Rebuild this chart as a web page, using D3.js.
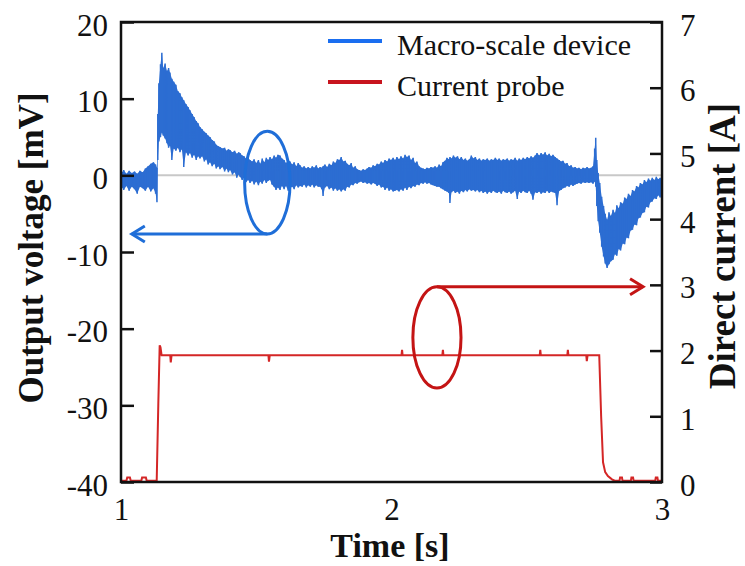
<!DOCTYPE html>
<html lang="en">
<head>
    <meta charset="UTF-8">
    <script src="https://d3js.org/d3.v7.min.js"></script>
    <title>Output voltage and direct current</title>
    <style>
        body { margin: 0; background: #fff; }
        svg text { font-family: "Liberation Serif", "Times New Roman", serif; fill: #111; }
    </style>
</head>
<body>
<script>
    // tick labels
    const timeTicks = [1, 2, 3];
    const voltTicks = [-40, -30, -20, -10, 0, 10, 20];
    const currentTicks = [0, 1, 2, 3, 4, 5, 6, 7];

    const seriesNames = ["Macro-scale device", "Current probe"];

    const voltageBand = [
        [1.000, 1.3, -2.4], [1.005, 0.4, -1.6], [1.010, 0.7, -1.9], [1.020, 0.2, -1.4],
        [1.030, 0.6, -2.0], [1.040, 0.3, -1.5], [1.050, 0.5, -1.8], [1.060, 0.2, -2.4],
        [1.070, 0.6, -1.5], [1.080, 0.4, -1.7], [1.090, 0.9, -2.0], [1.100, 1.2, -1.5],
        [1.110, 1.5, -2.1], [1.120, 1.7, -1.7], [1.128, 1.4, -2.4], [1.133, 1.0, -3.5],
        [1.136, 8.0, 2.0], [1.140, 12.0, 4.4], [1.146, 14.5, 5.0], [1.151, 16.0, 5.6],
        [1.156, 14.0, 5.2], [1.163, 14.6, 4.8], [1.170, 13.6, 4.2], [1.176, 14.0, 3.6],
        [1.181, 13.4, 3.9], [1.188, 12.6, 2.0], [1.195, 12.2, 3.5], [1.203, 11.8, 3.2],
        [1.210, 11.0, 3.6], [1.218, 10.7, 3.0], [1.225, 10.2, 3.4], [1.232, 9.8, 1.1],
        [1.240, 9.3, 3.0], [1.248, 8.9, 2.6], [1.255, 8.5, 2.9], [1.263, 8.0, 2.3],
        [1.270, 7.6, 2.7], [1.278, 7.1, 2.0], [1.285, 6.8, 2.5], [1.292, 6.3, 2.2],
        [1.300, 6.0, 2.5], [1.308, 5.7, 1.8], [1.315, 5.5, 2.1], [1.322, 5.2, 1.4],
        [1.329, 5.0, 1.7], [1.337, 4.6, 1.2], [1.345, 4.4, 1.5], [1.352, 4.0, 0.9],
        [1.360, 3.8, 1.2], [1.366, 3.7, 0.8], [1.375, 3.5, 1.1], [1.383, 3.6, 0.5],
        [1.390, 3.2, 0.9], [1.397, 3.4, 0.4], [1.403, 3.3, 0.7], [1.412, 3.0, 0.1],
        [1.420, 3.2, 0.4], [1.428, 2.8, -0.3], [1.435, 3.0, 0.1], [1.440, 2.9, -0.2],
        [1.448, 2.6, -0.6], [1.455, 2.5, -0.3], [1.462, 2.2, -0.9], [1.470, 2.3, -0.6],
        [1.477, 2.0, -1.0], [1.485, 1.8, -0.7], [1.492, 2.1, -1.2], [1.500, 1.6, -0.8],
        [1.508, 2.0, -1.3], [1.515, 1.5, -0.8], [1.522, 2.2, -1.1], [1.530, 1.7, -0.6],
        [1.537, 2.3, -1.0], [1.544, 2.0, -0.7], [1.551, 2.4, -0.6], [1.558, 2.1, -1.2],
        [1.566, 2.6, -1.5], [1.573, 2.3, -1.9], [1.580, 2.7, -1.6], [1.588, 2.6, -1.9],
        [1.595, 2.2, -1.4], [1.603, 2.0, -1.8], [1.610, 1.6, -1.4], [1.618, 2.0, -2.0],
        [1.625, 1.8, -1.7], [1.633, 1.4, -1.5], [1.640, 1.7, -1.8], [1.648, 1.2, -1.3],
        [1.655, 1.6, -1.6], [1.662, 1.3, -1.4], [1.670, 1.0, -1.5], [1.677, 1.2, -1.2],
        [1.685, 0.9, -1.6], [1.692, 1.1, -1.3], [1.700, 0.9, -1.5], [1.707, 1.2, -1.2],
        [1.714, 1.0, -1.6], [1.722, 1.3, -1.3], [1.729, 0.9, -1.5], [1.736, 1.1, -1.5],
        [1.742, 1.0, -1.8], [1.747, 1.2, -2.7], [1.754, 1.4, -1.6], [1.762, 1.1, -1.4],
        [1.770, 1.5, -1.8], [1.778, 1.3, -1.6], [1.785, 1.8, -2.0], [1.792, 1.6, -1.7],
        [1.800, 2.1, -2.0], [1.807, 2.0, -1.8], [1.814, 2.4, -2.1], [1.822, 1.8, -1.8],
        [1.829, 1.9, -2.0], [1.836, 1.5, -1.5], [1.844, 1.3, -1.6], [1.851, 1.6, -1.2],
        [1.858, 1.0, -1.3], [1.866, 1.2, -1.0], [1.873, 0.8, -1.1], [1.880, 0.7, -0.9],
        [1.888, 0.6, -0.8], [1.895, 0.8, -1.0], [1.902, 0.7, -0.9], [1.910, 0.9, -1.1],
        [1.917, 1.1, -1.0], [1.925, 1.0, -1.2], [1.932, 1.3, -1.0], [1.939, 1.2, -1.1],
        [1.947, 1.5, -1.4], [1.954, 1.4, -1.2], [1.962, 1.8, -1.6], [1.969, 1.6, -1.5],
        [1.976, 2.0, -1.9], [1.984, 1.8, -1.6], [1.991, 2.2, -2.0], [1.998, 2.0, -1.8],
        [2.006, 2.3, -2.1], [2.013, 2.0, -2.0], [2.020, 2.4, -1.9], [2.028, 2.1, -2.1],
        [2.035, 2.5, -1.8], [2.043, 2.2, -2.0], [2.050, 2.7, -1.6], [2.057, 2.4, -1.9],
        [2.065, 2.6, -1.5], [2.072, 2.0, -1.7], [2.080, 2.3, -1.4], [2.087, 1.6, -1.5],
        [2.094, 1.8, -1.2], [2.102, 1.2, -1.3], [2.109, 1.0, -1.0], [2.117, 0.9, -1.1],
        [2.124, 0.8, -0.9], [2.131, 1.0, -1.1], [2.139, 0.9, -1.0], [2.146, 1.1, -1.2],
        [2.154, 1.0, -1.3], [2.161, 1.2, -1.4], [2.168, 1.0, -1.5], [2.176, 1.4, -1.5],
        [2.183, 1.2, -1.7], [2.190, 1.7, -1.8], [2.198, 1.9, -2.0], [2.205, 2.3, -2.1],
        [2.212, 2.1, -2.3], [2.216, 2.4, -3.6], [2.222, 2.2, -2.2], [2.229, 2.6, -2.0],
        [2.236, 2.3, -2.3], [2.244, 2.5, -2.1], [2.251, 2.1, -2.4], [2.258, 2.4, -2.0],
        [2.266, 2.0, -2.2], [2.273, 2.2, -1.9], [2.280, 1.9, -2.1], [2.288, 2.1, -1.8],
        [2.295, 2.6, -2.0], [2.303, 2.2, -1.9], [2.310, 2.4, -2.1], [2.317, 2.0, -1.9],
        [2.325, 2.2, -2.2], [2.332, 1.9, -2.0], [2.339, 2.1, -2.3], [2.347, 2.0, -2.1],
        [2.354, 2.2, -2.4], [2.362, 1.9, -2.1], [2.369, 2.1, -2.3], [2.376, 2.0, -2.0],
        [2.384, 2.3, -2.2], [2.391, 2.0, -2.3], [2.398, 2.2, -2.1], [2.406, 1.9, -2.4],
        [2.413, 2.1, -2.0], [2.420, 2.0, -2.2], [2.428, 2.2, -2.3], [2.435, 1.9, -2.1],
        [2.442, 2.1, -2.4], [2.450, 2.0, -2.2], [2.457, 2.3, -2.0], [2.465, 1.9, -3.1],
        [2.472, 2.2, -2.1], [2.479, 2.0, -2.3], [2.487, 2.3, -2.0], [2.494, 2.1, -2.2],
        [2.502, 2.4, -2.3], [2.509, 2.2, -2.0], [2.516, 2.5, -2.4], [2.523, 2.3, -3.2],
        [2.531, 2.6, -2.2], [2.538, 2.9, -2.3], [2.546, 2.6, -2.1], [2.553, 2.9, -2.4],
        [2.560, 2.7, -2.2], [2.568, 3.0, -2.3], [2.575, 2.6, -2.0], [2.583, 2.8, -2.3],
        [2.590, 2.5, -2.1], [2.597, 2.7, -2.2], [2.605, 2.4, -2.3], [2.612, 2.2, -3.9],
        [2.620, 2.0, -2.0], [2.627, 1.8, -1.9], [2.634, 1.9, -1.7], [2.642, 1.5, -1.6],
        [2.649, 1.6, -1.4], [2.657, 1.2, -1.5], [2.664, 1.3, -1.2], [2.671, 1.0, -1.4],
        [2.679, 1.1, -1.2], [2.686, 0.9, -1.1], [2.693, 1.0, -1.0], [2.701, 0.8, -1.1],
        [2.708, 1.0, -0.9], [2.716, 0.9, -1.0], [2.723, 1.1, -0.9], [2.730, 0.9, -1.0],
        [2.738, 1.0, -0.9], [2.745, 1.2, -1.1], [2.751, 3.5, -0.8], [2.755, 4.9, -1.5],
        [2.759, 2.0, -4.0], [2.764, 0.3, -6.0], [2.770, -1.0, -7.5], [2.777, -2.8, -9.3],
        [2.784, -4.0, -10.6], [2.790, -5.0, -11.5], [2.797, -5.8, -12.1], [2.804, -4.8, -11.6],
        [2.811, -5.3, -11.2], [2.819, -4.5, -11.0], [2.826, -4.9, -10.3], [2.833, -3.9, -10.5],
        [2.840, -4.3, -9.6], [2.847, -3.5, -9.8], [2.855, -3.7, -8.9], [2.862, -2.9, -9.0],
        [2.869, -3.1, -8.1], [2.876, -2.4, -8.2], [2.884, -2.7, -7.2], [2.891, -1.9, -7.1],
        [2.898, -2.1, -6.4], [2.906, -1.4, -6.5], [2.913, -1.6, -5.6], [2.920, -1.0, -5.5],
        [2.928, -1.2, -4.9], [2.935, -0.6, -4.8], [2.942, -0.9, -4.1], [2.950, -0.4, -4.2],
        [2.957, -0.7, -3.5], [2.964, -0.3, -3.4], [2.972, -0.6, -3.0], [2.979, -0.2, -3.1],
        [2.986, -0.5, -2.6], [2.993, -0.3, -2.9], [3.000, -0.6, -2.5]
    ];

    // current probe, [time s, current A]
    const currentTrace = [
        [1.000, 0.02], [1.020, 0.02], [1.023, 0.07], [1.033, 0.07], [1.036, 0.02],
        [1.075, 0.02], [1.078, 0.07], [1.092, 0.07], [1.095, 0.02], [1.132, 0.02],
        [1.138, 1.20], [1.143, 2.08], [1.146, 2.05], [1.150, 1.93], [1.182, 1.93],
        [1.184, 1.82], [1.187, 1.93], [1.545, 1.93], [1.547, 1.83], [1.550, 1.93],
        [2.037, 1.93], [2.039, 2.01], [2.041, 1.93], [2.188, 1.93], [2.190, 2.01],
        [2.192, 1.93], [2.548, 1.93], [2.550, 2.01], [2.552, 1.93], [2.650, 1.93],
        [2.652, 2.01], [2.654, 1.93], [2.720, 1.93], [2.722, 1.84], [2.725, 1.93],
        [2.768, 1.93], [2.775, 1.00], [2.782, 0.30], [2.790, 0.15], [2.800, 0.09],
        [2.815, 0.04], [2.825, 0.02], [2.843, 0.02], [2.845, 0.07], [2.852, 0.07],
        [2.854, 0.02], [2.885, 0.02], [2.887, 0.07], [2.893, 0.07], [2.895, 0.02],
        [2.975, 0.02], [2.977, 0.07], [2.983, 0.07], [2.985, 0.02], [3.000, 0.02]
    ];

    const width = 745, height = 566;
    const svg = d3.select("body").append("svg")
        .attr("width", width)
        .attr("height", height);

    const x = d3.scaleLinear().domain([1, 3]).range([121, 662]);
    const yV = d3.scaleLinear().domain([-40, 20]).range([482, 22]);
    const yA = d3.scaleLinear().domain([0, 7]).range([482, 22]);

    const blue = "#2c6dd2", red = "#d42626";

    // zero reference line
    svg.append("line")
        .attr("x1", x(1)).attr("x2", x(3))
        .attr("y1", yV(0)).attr("y2", yV(0))
        .attr("stroke", "#c8c8c8").attr("stroke-width", 2);

    // voltage noise band: filled envelope plus a vertical stroke per reading
    const band = d3.area()
        .x(d => x(d[0]))
        .y0(d => yV(d[2]))
        .y1(d => yV(d[1]));
    svg.append("path")
        .datum(voltageBand)
        .attr("d", band)
        .attr("fill", blue);
    svg.append("path")
        .attr("d", voltageBand.map(d => `M${x(d[0])},${yV(d[1])}V${yV(d[2])}`).join(""))
        .attr("stroke", blue)
        .attr("stroke-width", 1.5);

    // current trace
    const currentLine = d3.line()
        .x(d => x(d[0]))
        .y(d => yA(d[1]));
    svg.append("path")
        .datum(currentTrace)
        .attr("d", currentLine)
        .attr("fill", "none")
        .attr("stroke", red)
        .attr("stroke-width", 2);

    // frame
    svg.append("rect")
        .attr("x", x(1)).attr("y", yV(20))
        .attr("width", x(3) - x(1)).attr("height", yV(-40) - yV(20))
        .attr("fill", "none").attr("stroke", "#111").attr("stroke-width", 2.5);

    // axes
    const plain = d => String(d);
    const leftAxis = svg.append("g")
        .attr("transform", `translate(${x(1)},0)`)
        .call(d3.axisLeft(yV).tickValues(voltTicks).tickSize(-13).tickPadding(13).tickFormat(plain));
    const rightAxis = svg.append("g")
        .attr("transform", `translate(${x(3)},0)`)
        .call(d3.axisRight(yA).tickValues(currentTicks).tickSize(-12).tickPadding(18).tickFormat(plain));
    const bottomAxis = svg.append("g")
        .attr("transform", `translate(0,${yV(-40)})`)
        .call(d3.axisBottom(x).tickValues(timeTicks).tickSize(0).tickFormat(plain));

    [leftAxis, rightAxis, bottomAxis].forEach(g => {
        g.select(".domain").remove();
        g.selectAll(".tick line").attr("stroke", "#111").attr("stroke-width", 2.5);
        g.selectAll(".tick text")
            .style("font-family", "'Liberation Serif', serif")
            .style("font-size", "31px")
            .attr("fill", "#111");
    });
    leftAxis.selectAll(".tick text").attr("dy", "0.42em");
    rightAxis.selectAll(".tick text").attr("dy", "0.42em");
    bottomAxis.selectAll(".tick text").attr("y", 38).attr("dy", 0);

    // axis titles
    svg.append("text")
        .attr("transform", `translate(43,248) rotate(-90)`)
        .attr("text-anchor", "middle")
        .style("font-size", "35px").style("font-weight", "bold")
        .text("Output voltage [mV]");
    svg.append("text")
        .attr("transform", `translate(735,246) rotate(-90)`)
        .attr("text-anchor", "middle")
        .style("font-size", "37px").style("font-weight", "bold")
        .text("Direct current [A]");
    svg.append("text")
        .attr("x", 390).attr("y", 557)
        .attr("text-anchor", "middle")
        .style("font-size", "34px").style("font-weight", "bold")
        .text("Time [s]");

    // annotations: ellipse around each trace with an arrow to its axis
    function chevron(tipX, tipY, dir, color) {
        svg.append("path")
            .attr("d", `M${tipX - dir * 13},${tipY - 8}L${tipX},${tipY}L${tipX - dir * 13},${tipY + 8}`)
            .attr("fill", "none").attr("stroke", color)
            .attr("stroke-width", 3).attr("stroke-linejoin", "miter");
    }

    const blueNote = "#1f6ed8";
    const bcx = x(1.541), bcy = yV(-0.95);
    const brx = x(1.541 + 0.084) - bcx, bry = yV(-0.95 - 6.7) - bcy;
    svg.append("ellipse")
        .attr("cx", bcx).attr("cy", bcy).attr("rx", brx).attr("ry", bry)
        .attr("fill", "none").attr("stroke", blueNote).attr("stroke-width", 3);
    svg.append("line")
        .attr("x1", bcx).attr("y1", bcy + bry)
        .attr("x2", x(1.04)).attr("y2", bcy + bry)
        .attr("stroke", blueNote).attr("stroke-width", 3);
    chevron(x(1.04), bcy + bry, -1, blueNote);

    const redNote = "#c41414";
    const rcx = x(2.168), rcy = yA(2.2);
    const rrx = x(2.168 + 0.089) - rcx, rry = yA(2.2 - 0.77) - rcy;
    svg.append("ellipse")
        .attr("cx", rcx).attr("cy", rcy).attr("rx", rrx).attr("ry", rry)
        .attr("fill", "none").attr("stroke", redNote).attr("stroke-width", 3);
    svg.append("line")
        .attr("x1", rcx).attr("y1", rcy - rry)
        .attr("x2", x(2.93)).attr("y2", rcy - rry)
        .attr("stroke", redNote).attr("stroke-width", 3);
    chevron(x(2.93), rcy - rry, 1, redNote);

    // legend
    const legendColors = ["#1a6ef0", "#c8141e"];
    const legend = svg.append("g");
    const items = legend.selectAll("g")
        .data(seriesNames)
        .enter().append("g")
        .attr("transform", (d, i) => `translate(328,${41 + i * 41})`);
    items.append("line")
        .attr("x1", 0).attr("x2", 54)
        .attr("stroke", (d, i) => legendColors[i])
        .attr("stroke-width", 4);
    items.append("text")
        .attr("x", 69).attr("y", 14)
        .style("font-size", "30px")
        .text(d => d);
</script>
</body>
</html>
